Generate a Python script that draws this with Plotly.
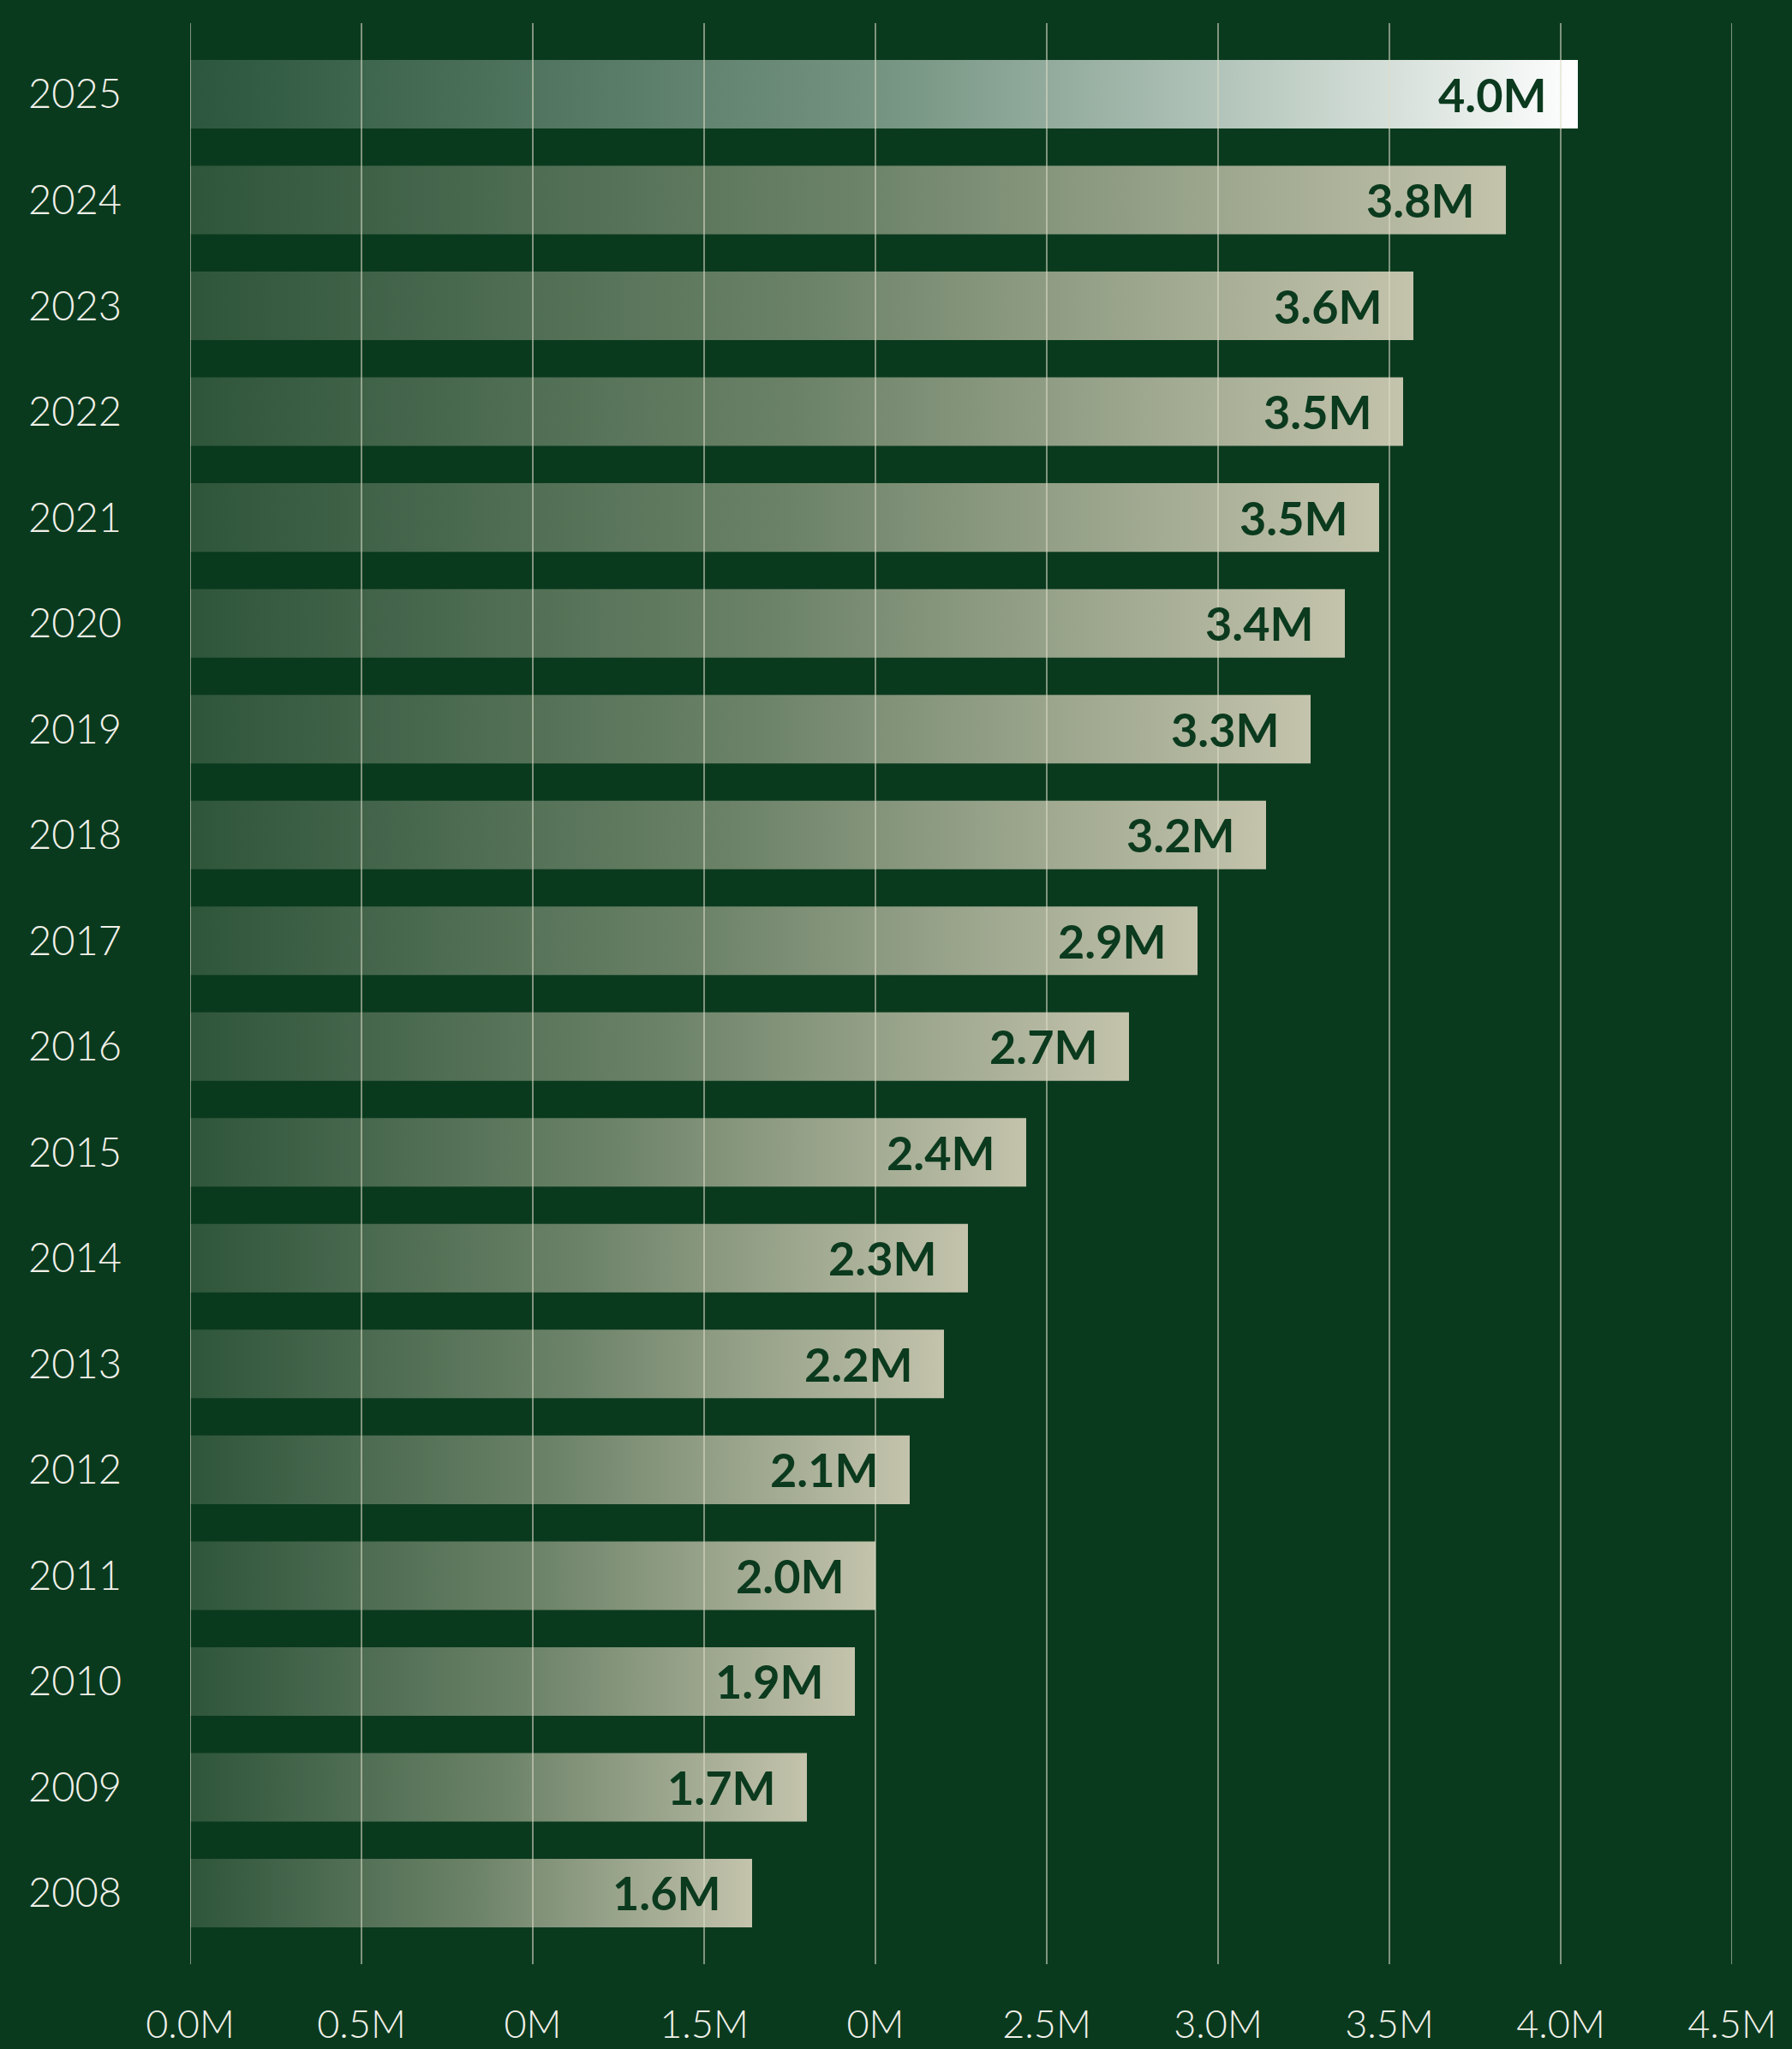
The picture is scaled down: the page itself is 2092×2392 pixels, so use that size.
import plotly.graph_objects as go

years = ["2008", "2009", "2010", "2011", "2012", "2013", "2014", "2015", "2016",
         "2017", "2018", "2019", "2020", "2021", "2022", "2023", "2024", "2025"]
values = [1.64, 1.80, 1.94, 2.00, 2.10, 2.20, 2.27, 2.44, 2.74,
          2.94, 3.14, 3.27, 3.37, 3.47, 3.54, 3.57, 3.84, 4.05]
value_labels = ["1.6M", "1.7M", "1.9M", "2.0M", "2.1M", "2.2M", "2.3M", "2.4M", "2.7M",
                "2.9M", "3.2M", "3.3M", "3.4M", "3.5M", "3.5M", "3.6M", "3.8M", "4.0M"]
x_tickvals = [0, 0.5, 1.0, 1.5, 2.0, 2.5, 3.0, 3.5, 4.0, 4.5]
x_ticktext = ["0.0M", "0.5M", "0M", "1.5M", "0M", "2.5M", "3.0M", "3.5M", "4.0M", "4.5M"]

BG = "#0a3a1e"
DARK = "#0b3a1e"
HALF = 0.324

fig = go.Figure()
for i, (yr, v) in enumerate(zip(years, values)):
    highlight = (yr == "2025")
    if highlight:
        cs = [[0, "rgba(200,215,205,0.18)"], [0.5, "rgba(205,222,212,0.55)"], [1, "rgba(255,255,255,1)"]]
    else:
        cs = [[0, "rgba(200,200,176,0.19)"], [0.5, "rgba(196,196,172,0.52)"], [1, "rgba(196,195,172,1)"]]
    fig.add_trace(go.Scatter(
        x=[0, v, v, 0, 0], y=[i - HALF, i - HALF, i + HALF, i + HALF, i - HALF],
        mode="lines", line=dict(width=0), fill="toself",
        fillgradient=dict(type="horizontal", colorscale=cs),
        hoverinfo="skip", showlegend=False))
    fig.add_annotation(x=v, y=i, text=value_labels[i], showarrow=False,
                       xanchor="right", yanchor="middle", xshift=-34,
                       font=dict(family="Lato", size=54, color=DARK, weight=700))

for tv in x_tickvals:
    fig.add_shape(type="line", x0=tv, x1=tv, y0=0, y1=1, xref="x", yref="paper",
                  layer="above", line=dict(color="rgba(222,220,200,0.75)", width=1.5))

fig.update_layout(
    width=2092, height=2392,
    margin=dict(l=222, r=70, t=27, b=99),
    paper_bgcolor=BG, plot_bgcolor=BG,
    xaxis=dict(range=[0, 4.5], tickvals=x_tickvals, ticktext=x_ticktext,
               showgrid=False, zeroline=False, showline=False, automargin=False,
               tickfont=dict(family="Lato", size=45, color="#f2f1ea", weight=300),
               ticklabelstandoff=40),
    yaxis=dict(range=[-0.672, 17.672], tickvals=list(range(len(years))), ticktext=years,
               showgrid=False, zeroline=False, showline=False, automargin=False,
               tickfont=dict(family="Lato", size=47, color="#f2f1ea", weight=300),
               ticklabelstandoff=79),
)
fig.write_html("out.html", config={"displayModeBar": False},
               post_script="document.body.style.margin='0';document.body.style.background='%s';" % BG)
